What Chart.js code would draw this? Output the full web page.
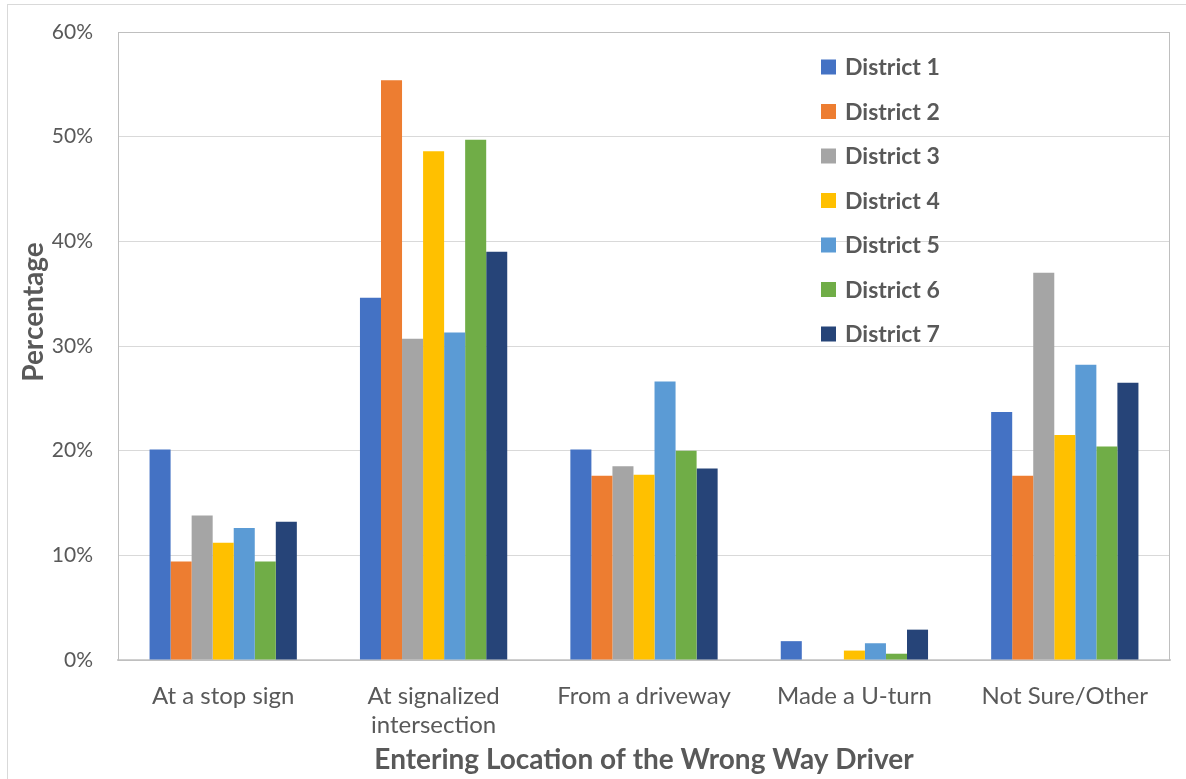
<!DOCTYPE html>
<html>
<head>
<meta charset="utf-8">
<script src="https://cdn.jsdelivr.net/npm/chart.js@4.4.0/dist/chart.umd.min.js"></script>
<style>
  html, body { margin: 0; padding: 0; background: #fff; }
  #wrap { position: relative; width: 1186px; height: 779px; }
  #frame { position: absolute; left: 7px; top: 4px; right: 0; bottom: 0; border: 1px solid #d9d9d9; border-right: none; border-bottom: none; }
</style>
</head>
<body>
<div id="wrap">
  <div id="frame"></div>
  <canvas id="chart" width="1186" height="779"></canvas>
</div>
<script>
const categories = [
  "At a stop sign",
  ["At signalized", "intersection"],
  "From a driveway",
  "Made a U-turn",
  "Not Sure/Other"
];
const seriesNames = ["District 1", "District 2", "District 3", "District 4", "District 5", "District 6", "District 7"];
const district1 = [20.1, 34.6, 20.1, 1.8, 23.7];
const district2 = [9.4, 55.4, 17.6, 0, 17.6];
const district3 = [13.8, 30.7, 18.5, 0, 37.0];
const district4 = [11.2, 48.6, 17.7, 0.9, 21.5];
const district5 = [12.6, 31.3, 26.6, 1.6, 28.2];
const district6 = [9.4, 49.7, 20.0, 0.6, 20.4];
const district7 = [13.2, 39.0, 18.3, 2.9, 26.5];
const yTicks = [0, 10, 20, 30, 40, 50, 60];

const colors = ["#4472C4", "#ED7D31", "#A5A5A5", "#FFC000", "#5B9BD5", "#70AD47", "#264478"];
const values = [district1, district2, district3, district4, district5, district6, district7];

const textColor = "#595959";
const fontFamily = "Lato, 'Open Sans', sans-serif";

// legend drawn inside the plot area, top right
const insideLegend = {
  id: "insideLegend",
  afterDatasetsDraw(chart) {
    const ctx = chart.ctx;
    ctx.save();
    ctx.font = "bold 23px " + fontFamily;
    ctx.textBaseline = "middle";
    chart.data.datasets.forEach((ds, i) => {
      const y = 67 + i * 44.5;
      ctx.fillStyle = ds.backgroundColor;
      ctx.fillRect(821, y - 7.5, 15, 15);
      ctx.fillStyle = textColor;
      ctx.fillText(ds.label, 845, y + 1);
    });
    ctx.restore();
  }
};

// plot area outline + y axis title (sits a bit above the plot centre)
const plotBorder = {
  id: "plotBorder",
  beforeDatasetsDraw(chart) {
    const a = chart.chartArea;
    const ctx = chart.ctx;
    ctx.save();
    ctx.strokeStyle = "#bfbfbf";
    ctx.lineWidth = 1;
    ctx.strokeRect(a.left + 0.5, a.top + 0.5, a.right - a.left - 1, a.bottom - a.top);
    ctx.translate(34, 312);
    ctx.rotate(-Math.PI / 2);
    ctx.font = "bold 28px " + fontFamily;
    ctx.fillStyle = textColor;
    ctx.textAlign = "center";
    ctx.textBaseline = "middle";
    ctx.fillText("Percentage", 0, 0);
    ctx.restore();
  }
};

new Chart(document.getElementById("chart"), {
  type: "bar",
  data: {
    labels: categories,
    datasets: seriesNames.map((name, i) => ({
      label: name,
      data: values[i],
      backgroundColor: colors[i],
      categoryPercentage: 0.7,
      barPercentage: 1.0
    }))
  },
  options: {
    responsive: false,
    animation: false,
    layout: { padding: { top: 32, right: 16, left: 0, bottom: 0 } },
    plugins: {
      legend: { display: false },
      tooltip: { enabled: false }
    },
    scales: {
      x: {
        grid: { display: false, drawTicks: false },
        border: { color: "#d0d0d0", width: 2 },
        ticks: {
          color: textColor,
          font: { family: fontFamily, size: 24 },
          padding: 22,
          maxRotation: 0,
          autoSkip: false
        },
        title: {
          display: true,
          text: "Entering Location of the Wrong Way Driver",
          color: textColor,
          font: { family: fontFamily, size: 28, weight: "bold" },
          padding: { top: 0, bottom: 2 }
        },
        afterFit(scale) { scale.height = 119; }
      },
      y: {
        min: 0,
        max: 60,
        afterBuildTicks(scale) { scale.ticks = yTicks.map(v => ({ value: v })); },
        grid: { color: "#d9d9d9", drawTicks: false },
        border: { display: false },
        ticks: {
          color: textColor,
          font: { family: fontFamily, size: 21 },
          padding: 25,
          callback: v => v + "%"
        },
        afterFit(scale) {
          scale.width = 118;
          scale.paddingTop = 0;
          scale.paddingBottom = 0;
        }
      }
    }
  },
  plugins: [plotBorder, insideLegend]
});
</script>
</body>
</html>
